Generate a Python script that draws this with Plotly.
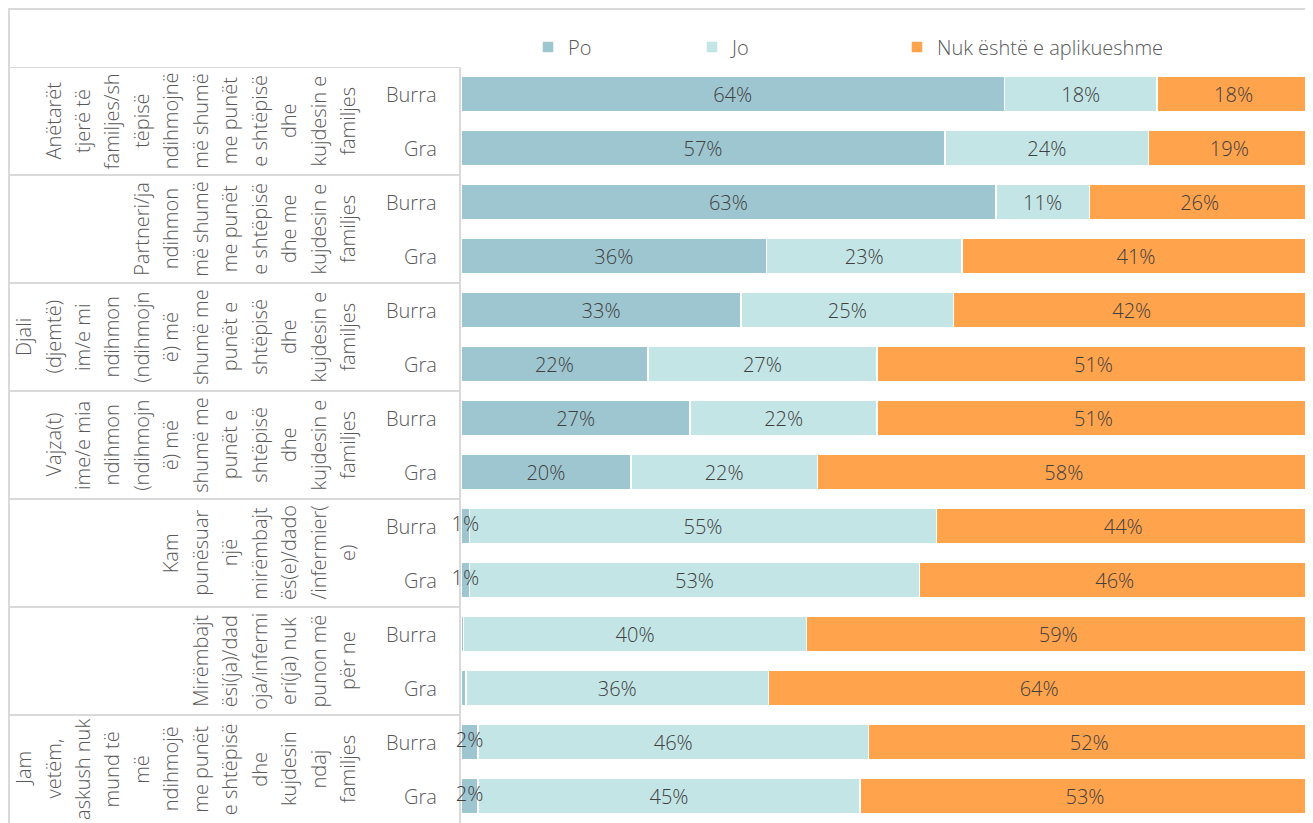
import plotly.graph_objects as go

# ---------------- data ----------------
categories = [
    ["Anëtarët", "tjerë të", "familjes/sh", "tëpisë", "ndihmojnë", "më shumë",
     "me punët", "e shtëpisë", "dhe", "kujdesin e", "familjes"],
    ["Partneri/ja", "ndihmon", "më shumë", "me punët", "e shtëpisë", "dhe me",
     "kujdesin e", "familjes"],
    ["Djali", "(djemtë)", "im/e mi", "ndihmon", "(ndihmojn", "ë) më", "shumë me",
     "punët e", "shtëpisë", "dhe", "kujdesin e", "familjes"],
    ["Vajza(t)", "ime/e mia", "ndihmon", "(ndihmojn", "ë) më", "shumë me",
     "punët e", "shtëpisë", "dhe", "kujdesin e", "familjes"],
    ["Kam", "punësuar", "një", "mirëmbajt", "ës(e)/dado", "/infermier(", "e)"],
    ["Mirëmbajt", "ësi(ja)/dad", "oja/infermi", "eri(ja) nuk", "punon më", "për ne"],
    ["Jam", "vetëm,", "askush nuk", "mund të", "më", "ndihmojë", "me punët",
     "e shtëpisë", "dhe", "kujdesin", "ndaj", "familjes"],
]
sexes = ["Burra", "Gra"]

series_names = ["Po", "Jo", "Nuk është e aplikueshme"]
po  = [64, 57, 63, 36, 33, 22, 27, 20, 1, 1, 0.3, 0.6, 2, 2]
jo  = [18, 24, 11, 23, 25, 27, 22, 22, 55, 53, 40.4, 35.6, 46, 45]
nuk = [18, 19, 26, 41, 42, 51, 51, 58, 44, 46, 59.3, 63.8, 52, 53]
# Po labels hidden for the 6th category in the original
po_label_hidden = [False] * 10 + [True, True] + [False, False]

colors = ["#9EC6D0", "#C3E5E6", "#FFA34D"]

# ---------------- layout constants ----------------
OFF = 8  # page body margin offset
W, H = 1313 - OFF, 823 - OFF
ML, MT = 461 - OFF, 67 - OFF
MR = W - (1310 - OFF)
MB = 0
PW = W - ML - MR
PH = H - MT - MB
FONT = "Open Sans"
TXT = "#404040"
LBL = "#595959"
GRID = "#D9D9D9"
FS = 20
SMALL = 5  # segments narrower than this get their label drawn on top


def px2paper(px):
    """reference screen px -> paper x"""
    return (px - OFF - ML) / PW


def py2paper(py):
    return 1 - (py - OFF - MT) / PH


rows = [f"{i}|{s}" for i in range(len(categories)) for s in sexes]

fig = go.Figure()
values = [po, jo, nuk]
for k, (name, vals, col) in enumerate(zip(series_names, values, colors)):
    texts = []
    for j, v in enumerate(vals):
        if (k == 0 and po_label_hidden[j]) or v < SMALL:
            texts.append("")
        else:
            texts.append(f"{round(v):.0f}%")
    fig.add_trace(go.Bar(
        y=rows, x=vals, name=name, orientation="h",
        marker=dict(color=col, line=dict(color="white", width=1.5)),
        text=texts, textposition="inside", insidetextanchor="middle",
        textangle=0,
        textfont=dict(family=FONT, size=FS, color=TXT, weight=300),
        hoverinfo="skip",
        legend=["legend", "legend2", "legend3"][k],
    ))

# labels of very thin Po segments, drawn above all bars
small_y, small_x, small_t = [], [], []
for j, v in enumerate(po):
    if v < SMALL and not po_label_hidden[j]:
        small_y.append(rows[j])
        small_x.append(v / 2)
        small_t.append(f"{round(v):.0f}%")
fig.add_trace(go.Scatter(
    y=small_y, x=small_x, text=small_t, mode="text", textposition="middle center",
    textfont=dict(family=FONT, size=FS, color=TXT, weight=300),
    cliponaxis=False, showlegend=False, hoverinfo="skip",
))

annotations = []
shapes = []
line_step = 29.45
last_line_px = 347
for i, lines in enumerate(categories):
    yc = 2 * i + 0.5
    n = len(lines)
    for j, ln in enumerate(lines):
        xpx = last_line_px - line_step * (n - 1 - j)
        annotations.append(dict(
            text=ln, x=px2paper(xpx), xref="paper", y=yc, yref="y",
            xanchor="center", yanchor="middle", textangle=-90, showarrow=False,
            font=dict(family=FONT, size=FS, color=LBL, weight=300),
        ))
    for s_i, s in enumerate(sexes):
        annotations.append(dict(
            text=s, x=px2paper(439), xref="paper", y=2 * i + s_i, yref="y",
            xanchor="right", yanchor="middle", showarrow=False,
            font=dict(family=FONT, size=FS, color=LBL, weight=300),
        ))
    shapes.append(dict(type="line", xref="paper", yref="y",
                       x0=px2paper(OFF + 0.5), x1=0, y0=2 * i - 0.5, y1=2 * i - 0.5,
                       line=dict(color=GRID, width=2)))

# outer frame
top = py2paper(OFF + 1)
shapes.append(dict(type="line", xref="paper", yref="paper",
                   x0=px2paper(OFF), x1=px2paper(1311), y0=top, y1=top,
                   line=dict(color=GRID, width=2)))
shapes.append(dict(type="line", xref="paper", yref="paper",
                   x0=px2paper(OFF + 1), x1=px2paper(OFF + 1), y0=-0.1, y1=top,
                   line=dict(color=GRID, width=2)))
shapes.append(dict(type="line", xref="paper", yref="paper",
                   x0=px2paper(1311), x1=px2paper(1311), y0=-0.1, y1=top,
                   line=dict(color=GRID, width=2)))

leg_common = dict(orientation="h", xref="container", yref="container",
                  xanchor="left", yanchor="middle", bgcolor="rgba(0,0,0,0)",
                  font=dict(family=FONT, size=FS, color=LBL, weight=300))
leg_x = [528 - OFF, 692 - OFF, 897 - OFF]
leg_y = 1 - (47 - OFF) / H

fig.update_layout(
    width=W, height=H,
    margin=dict(l=ML, r=MR, t=MT, b=MB, pad=0),
    paper_bgcolor="white", plot_bgcolor="white",
    barmode="stack", bargap=0.36,
    showlegend=True,
    legend=dict(x=leg_x[0] / W, y=leg_y, **leg_common),
    legend2=dict(x=leg_x[1] / W, y=leg_y, **leg_common),
    legend3=dict(x=leg_x[2] / W, y=leg_y, **leg_common),
    xaxis=dict(range=[0, 100], visible=False, fixedrange=True),
    yaxis=dict(categoryorder="array", categoryarray=rows,
               range=[len(rows) - 0.5, -0.5],
               showticklabels=False, ticks="", showgrid=False, zeroline=False,
               showline=True, linecolor=GRID, linewidth=2, fixedrange=True,
               layer="below traces"),
    uniformtext=dict(minsize=FS, mode="show"),
    annotations=annotations,
    shapes=shapes,
    font=dict(family=FONT),
)

fig.write_html("out.html")
